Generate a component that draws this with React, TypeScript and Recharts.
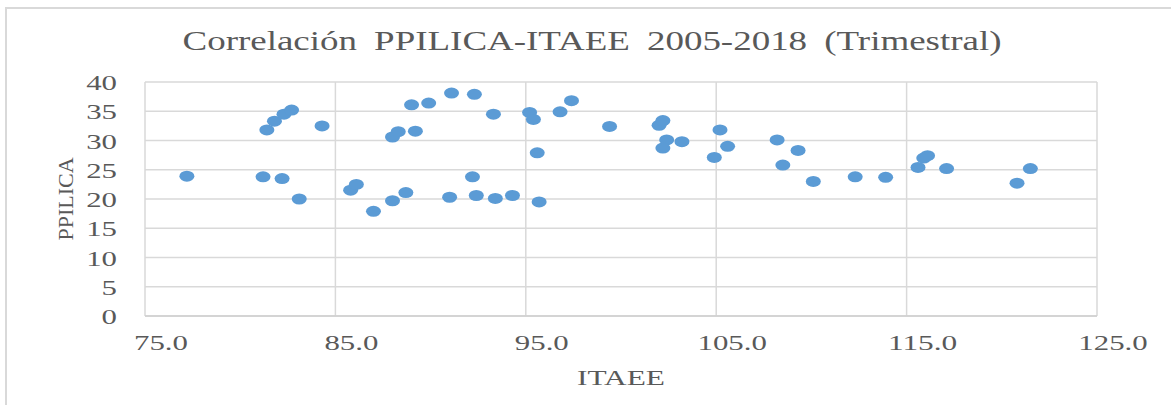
import { CartesianGrid, Scatter, ScatterChart, XAxis, YAxis } from 'recharts'

const TITLE = 'Correlación PPILICA-ITAEE 2005-2018 (Trimestral)'
const X_TITLE = 'ITAEE'
const Y_TITLE = 'PPILICA'

const X_TICKS = [75, 85, 95, 105, 115, 125]
const Y_TICKS = [0, 5, 10, 15, 20, 25, 30, 35, 40]

// ITAEE (x) and PPILICA (y)
const itaee = [
  77.2, 81.2, 82.2, 83.1, 81.4, 81.8, 82.3, 82.7, 84.3, 85.8, 86.1, 87.0, 88.0, 88.7,
  88.0, 88.3, 89.2, 89.0, 89.9, 91.1, 92.3, 93.3, 91.0, 92.2, 92.4, 93.4, 94.3, 95.7,
  95.6, 95.2, 95.4, 96.8, 97.4, 99.4, 102.0, 102.2, 102.4, 102.2, 103.2, 104.9, 105.2,
  105.6, 108.2, 108.5, 109.3, 110.1, 112.3, 113.9, 115.6, 115.9, 116.1, 117.1, 120.8,
  121.5,
]
const ppilica = [
  23.9, 23.8, 23.5, 20.0, 31.8, 33.3, 34.5, 35.2, 32.5, 21.5, 22.5, 17.9, 19.7, 21.1,
  30.6, 31.5, 31.6, 36.1, 36.4, 38.1, 37.9, 34.5, 20.3, 23.8, 20.6, 20.1, 20.6, 19.5,
  27.9, 34.8, 33.6, 34.9, 36.8, 32.4, 32.6, 33.4, 30.1, 28.7, 29.8, 27.1, 31.8, 29.0,
  30.1, 25.8, 28.3, 23.0, 23.8, 23.7, 25.4, 27.0, 27.4, 25.2, 22.7, 25.2,
]

const data = itaee.map((x, i) => ({ x, y: ppilica[i] }))

const TEXT = '#595959'
const GRID = '#d9d9d9'
const FONT = '"Liberation Serif", "Times New Roman", serif'
const STRETCH = 1.4

// rough Times glyph widths (em) so labels can be stretched like the source
function emWidth(s: string) {
  let w = 0
  for (const ch of s) w += ch === '.' ? 0.25 : 0.5
  return w
}

function XTick({ x, y, payload }: any) {
  const label = Number(payload.value).toFixed(1)
  return (
    <text
      x={x + 16}
      y={y + 34}
      textAnchor="middle"
      fontFamily={FONT}
      fontSize={22}
      fill={TEXT}
      textLength={emWidth(label) * 22 * STRETCH}
      lengthAdjust="spacingAndGlyphs"
    >
      {label}
    </text>
  )
}

function YTick({ x, y, payload }: any) {
  const label = String(payload.value)
  return (
    <text
      x={x}
      y={y + 8}
      textAnchor="end"
      fontFamily={FONT}
      fontSize={22}
      fill={TEXT}
      textLength={emWidth(label) * 22 * STRETCH}
      lengthAdjust="spacingAndGlyphs"
    >
      {label}
    </text>
  )
}

function Dot({ cx, cy }: any) {
  return <ellipse cx={cx} cy={cy} rx={7.5} ry={5.5} fill="#5B9BD5" />
}

export default function App() {
  return (
    <div style={{ position: 'absolute', left: 0, top: 0, width: 1171, height: 405, background: '#fff' }}>
      <div
        style={{
          position: 'absolute',
          left: 5,
          top: 7,
          right: 0,
          bottom: 0,
          borderTop: `2px solid ${GRID}`,
          borderLeft: `2px solid ${GRID}`,
        }}
      />
      <svg width={1171} height={70} style={{ position: 'absolute', left: 0, top: 0 }}>
        <text
          x={592}
          y={50}
          textAnchor="middle"
          fontFamily={FONT}
          fontSize={28}
          fill={TEXT}
          wordSpacing={6}
          textLength={819}
          lengthAdjust="spacingAndGlyphs"
        >
          {TITLE}
        </text>
      </svg>
      <div style={{ position: 'absolute', left: 0, top: 0 }}>
        <ScatterChart width={1171} height={405} margin={{ top: 82, right: 74, bottom: 59, left: 85 }}>
          <CartesianGrid stroke={GRID} strokeWidth={1.5} />
          <XAxis
            type="number"
            dataKey="x"
            domain={[75, 125]}
            ticks={X_TICKS}
            height={30}
            tickSize={0}
            tickMargin={0}
            tickLine={false}
            axisLine={{ stroke: '#cfcfcf', strokeWidth: 1.5 }}
            tick={<XTick />}
            label={{
              content: ({ viewBox }: any) => (
                <text
                  x={viewBox.x + viewBox.width / 2}
                  y={viewBox.y + 69}
                  textAnchor="middle"
                  fontFamily={FONT}
                  fontSize={22}
                  fill={TEXT}
                  textLength={88}
                  lengthAdjust="spacingAndGlyphs"
                >
                  {X_TITLE}
                </text>
              ),
            }}
          />
          <YAxis
            type="number"
            dataKey="y"
            domain={[0, 40]}
            ticks={Y_TICKS}
            width={60}
            tickSize={0}
            tickMargin={28}
            tickLine={false}
            axisLine={false}
            tick={<YTick />}
            label={{
              content: ({ viewBox }: any) => {
                const lx = viewBox.x - 12
                const ly = viewBox.y + viewBox.height / 2
                return (
                  <text
                    x={lx}
                    y={ly}
                    textAnchor="middle"
                    fontFamily={FONT}
                    fontSize={22}
                    fill={TEXT}
                    transform={`rotate(-90, ${lx}, ${ly})`}
                  >
                    {Y_TITLE}
                  </text>
                )
              },
            }}
          />
          <Scatter data={data} shape={<Dot />} isAnimationActive={false} />
        </ScatterChart>
      </div>
    </div>
  )
}
